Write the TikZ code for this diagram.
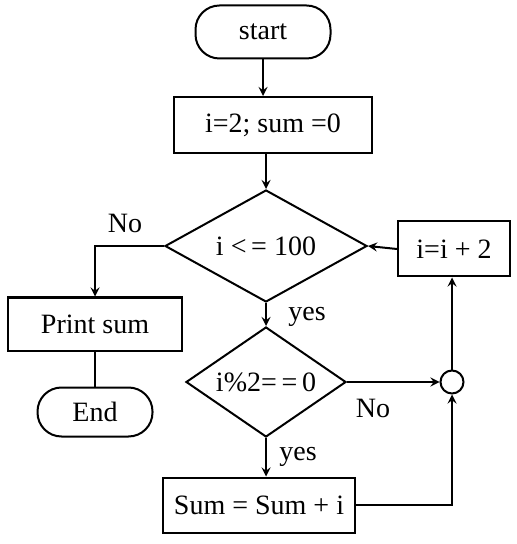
\documentclass[tikz,border=0pt]{standalone}
\usepackage{fontspec}
\setmainfont{Liberation Serif}
\usetikzlibrary{shapes.geometric}
\tikzset{
  box/.style={draw, line width=1pt, inner sep=0pt},
  term/.style={box, rounded corners=12pt},
  decide/.style={draw, line width=1pt, diamond, inner sep=0pt},
  flow/.style={line width=1pt, ->, >=stealth},
}
\begin{document}
\begin{tikzpicture}[x=0.5pt, y=-0.5pt, font=\fontsize{14}{16}\selectfont]
            \useasboundingbox (0,0) rectangle (517,544);
            %Nodes
            \node[term, minimum width=67.5pt, minimum height=26.5pt] at (263,32) (start) {start};
            \node[box, minimum width=99pt, minimum height=28pt] at (273,125) (init) {i=2; sum =0};
            \node[decide, minimum width=101pt, minimum height=56pt, aspect=1.8] at (266,246) (test) {i <\,= 100};
            \node[box, minimum width=56pt, minimum height=27.5pt] at (454,249) (incr) {i=i + 2};
            \node[box, minimum width=87pt, minimum height=26.5pt] at (95,324) (print) {Print sum};
            \node[term, minimum width=57.5pt, minimum height=24.5pt] at (95,412) (stop) {End};
            \node[decide, minimum width=80pt, minimum height=55pt, aspect=1.45] at (266,382) (even) {i\%2=\,=\,0};
            \node[draw, line width=1pt, circle, minimum size=11.5pt, inner sep=0pt] at (452,382) (join) {};
            \node[box, minimum width=96pt, minimum height=27.5pt] at (259,505) (add) {Sum = Sum + i};

            %Labels
            \node at (125,223) (noA) {No};
            \node at (307,317) (yesA) {yes};
            \node at (373,408) (noB) {No};
            \node at (298,457) (yesB) {yes};

            %Lines
            \draw[flow] (start) -- (start |- init.north);
            \draw[flow] (test |- init.south) -- (test.north);
            \draw[flow] (test.west) -| (print.north);
            \draw[line width=1pt] (print) -- (stop);
            \draw[flow] (test.south) -- (even.north);
            \draw[flow] (even.east) -- (join.west);
            \draw[flow] (even.south) -- (even |- add.north);
            \draw[flow] (add.east) -| (join.south);
            \draw[flow] (join.north) -- (join |- incr.south);
            \draw[flow] (incr.west) -- (test.east);
        \end{tikzpicture}
\end{document}
